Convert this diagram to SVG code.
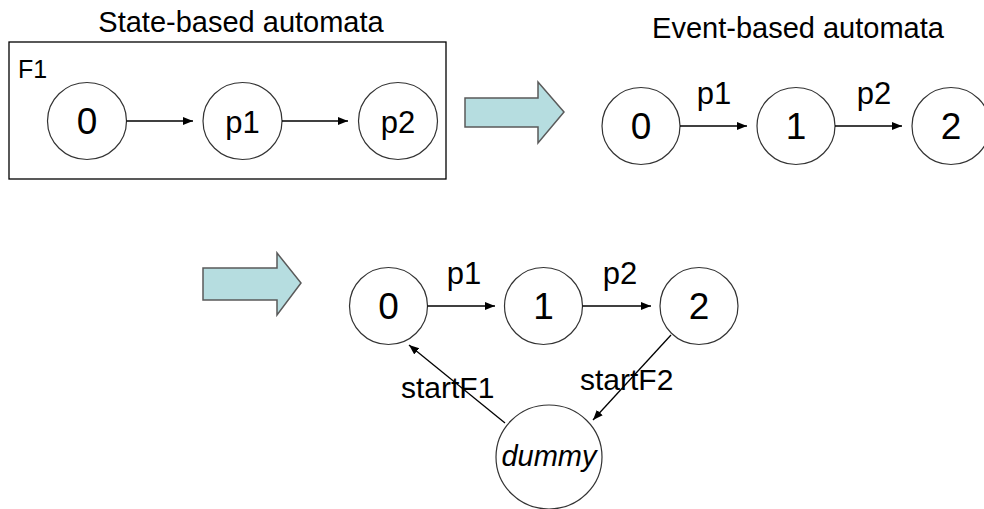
<svg xmlns="http://www.w3.org/2000/svg" width="984" height="509" viewBox="0 0 984 509">
<style>
  text { font-family: "Liberation Sans", Arial, sans-serif; fill: #000; }
  .title { font-size: 29px; text-anchor: middle; }
  .state { fill: #fff; stroke: #333; stroke-width: 1.2; }
  .digit { font-size: 37px; text-anchor: middle; }
  .plab { font-size: 31px; text-anchor: middle; }
  .elab { font-size: 31px; text-anchor: middle; }
  .edge { stroke: #000; stroke-width: 1.3; fill: none; marker-end: url(#ah); }
  .big { fill: #B6DDE0; stroke: #5a5a5a; stroke-width: 1.5; }
</style>
<defs>
  <marker id="ah" markerUnits="userSpaceOnUse" markerWidth="11" markerHeight="9" refX="10" refY="4" orient="auto">
    <path d="M0,0 L10,4 L0,8 z" fill="#000"/>
  </marker>
</defs>
<rect width="984" height="509" fill="#fff"/>

<text class="title" x="241" y="32">State-based automata</text>
<text class="title" x="798" y="38">Event-based automata</text>

<g id="box-F1">
  <rect x="9" y="42" width="437" height="137" fill="none" stroke="#000" stroke-width="1.3"/>
  <text x="18" y="78" style="font-size:25px">F1</text>
</g>

<g id="s0"><ellipse class="state" cx="87" cy="121" rx="39.5" ry="38.5"/><text class="digit" x="87" y="134">0</text></g>
<g id="sp1"><ellipse class="state" cx="242.5" cy="121" rx="39.5" ry="38.5"/><text class="plab" x="242.5" y="133">p1</text></g>
<g id="sp2"><ellipse class="state" cx="398" cy="121" rx="39.5" ry="38.5"/><text class="plab" x="398" y="133">p2</text></g>

<g id="bigarrow1"><path class="big" d="M465,98 L538,98 L538,82 L564,112 L538,143 L538,127 L465,127 z"/></g>

<g id="e0"><ellipse class="state" cx="641" cy="126" rx="39" ry="38.5"/><text class="digit" x="641" y="139">0</text></g>
<g id="e1"><ellipse class="state" cx="796" cy="126" rx="39" ry="38.5"/><text class="digit" x="796" y="139">1</text></g>
<g id="e2"><ellipse class="state" cx="951" cy="126" rx="39" ry="38.5"/><text class="digit" x="951" y="139">2</text></g>

<g id="bigarrow2"><path class="big" d="M203,268 L277,268 L277,253 L301,283 L277,315 L277,300 L203,300 z"/></g>

<g id="b0"><ellipse class="state" cx="388.5" cy="306" rx="39" ry="38.5"/><text class="digit" x="388.5" y="319">0</text></g>
<g id="b1"><ellipse class="state" cx="543.5" cy="306" rx="39" ry="38.5"/><text class="digit" x="543.5" y="319">1</text></g>
<g id="b2"><ellipse class="state" cx="699" cy="306" rx="39" ry="38.5"/><text class="digit" x="699" y="319">2</text></g>
<g id="dummy"><ellipse class="state" cx="549" cy="457" rx="53" ry="52"/><text x="549" y="466" style="font-size:29px;font-style:italic;text-anchor:middle">dummy</text></g>

<g id="connectors">
  <line class="edge" x1="126.5" y1="121" x2="193" y2="121"/>
  <line class="edge" x1="282" y1="121" x2="348" y2="121"/>
  <line class="edge" x1="680" y1="126" x2="747" y2="126"/>
  <line class="edge" x1="835" y1="126" x2="902" y2="126"/>
  <line class="edge" x1="427.5" y1="306" x2="495" y2="306"/>
  <line class="edge" x1="582.5" y1="306" x2="651" y2="306"/>
  <line class="edge" x1="671" y1="335" x2="593" y2="420"/>
  <line class="edge" x1="505" y1="423" x2="409" y2="345"/>
  <text class="elab" x="714" y="104">p1</text>
  <text class="elab" x="874" y="104">p2</text>
  <text class="elab" x="464" y="284">p1</text>
  <text class="elab" x="620" y="284">p2</text>
  <text x="401" y="398" style="font-size:30px">startF1</text>
  <text x="580" y="390" style="font-size:30px">startF2</text>
</g>
</svg>
